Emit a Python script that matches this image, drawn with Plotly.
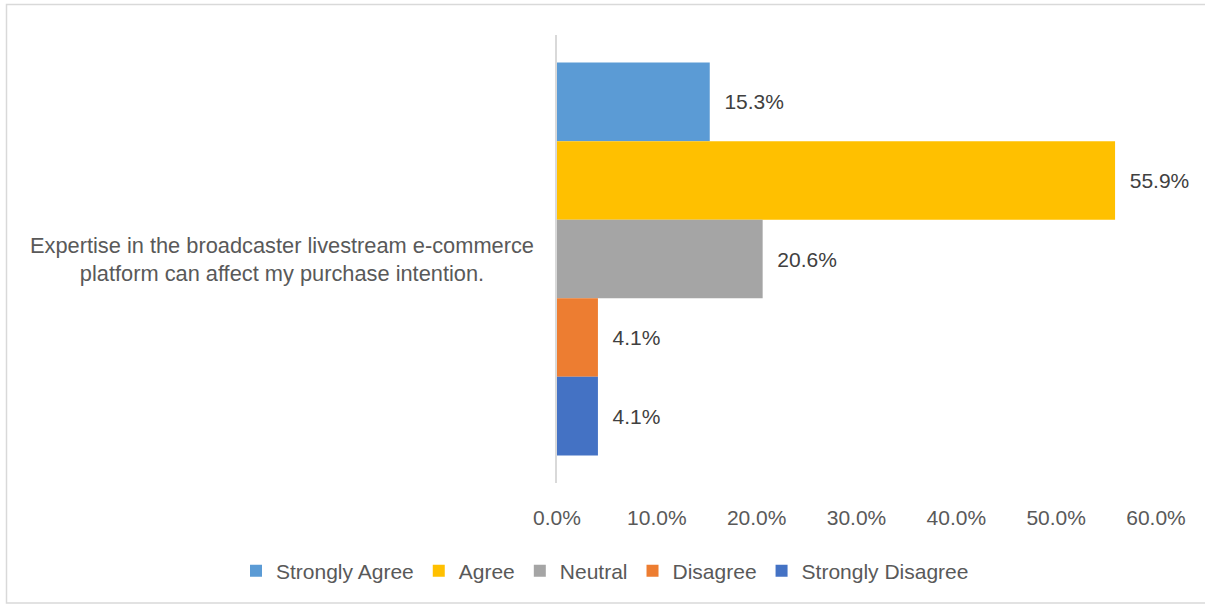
import plotly.graph_objects as go

# Survey item and response shares (%)
question = "Expertise in the broadcaster livestream e-commerce platform can affect my purchase intention."
responses = ["Strongly Agree", "Agree", "Neutral", "Disagree", "Strongly Disagree"]
shares = [15.3, 55.9, 20.6, 4.1, 4.1]
colors = ["#5B9BD5", "#FFC000", "#A5A5A5", "#ED7D31", "#4472C4"]
x_ticks = [0, 10, 20, 30, 40, 50, 60]

W, H = 1205, 604
L, R, T, B = 557, 49, 35, 121
pw, ph = W - L - R, H - T - B

font_family = "Liberation Sans, Arial, sans-serif"
text_col = "#595959"
fs = 21

fig = go.Figure()
for name, val, col in zip(responses, shares, colors):
    fig.add_trace(go.Bar(
        y=[question], x=[val], name=name, orientation="h",
        marker=dict(color=col, line=dict(width=0)),
        text=[val], texttemplate="\u00a0\u00a0%{x:.1f}%",
        textposition="outside", cliponaxis=False,
        textfont=dict(size=fs, color="#404040", family=font_family),
    ))

def px_to_paper_x(p):
    return (p - L) / pw

def px_to_paper_y(p):
    return (H - B - p) / ph

fig.update_layout(
    width=W, height=H,
    margin=dict(l=L, r=R, t=T, b=B, autoexpand=False),
    paper_bgcolor="white", plot_bgcolor="white",
    barmode="group", bargap=0.123, bargroupgap=0,
    font=dict(family=font_family, color=text_col, size=fs),
    xaxis=dict(
        range=[0, 60], tickvals=x_ticks,
        ticktext=[f"{v:.1f}%" for v in x_ticks],
        showgrid=False, zeroline=False, showline=False,
        ticks="", ticklabelstandoff=20,
        tickfont=dict(size=fs, color=text_col),
    ),
    yaxis=dict(
        autorange="reversed", showticklabels=False, showgrid=False,
        zeroline=False, showline=True, linecolor="#D9D9D9", linewidth=1.5,
        ticks="",
    ),
    legend=dict(
        orientation="h", xref="paper", yref="paper",
        x=px_to_paper_x(236), xanchor="left",
        y=px_to_paper_y(571), yanchor="middle",
        font=dict(size=fs, color=text_col), itemwidth=30,
        tracegroupgap=0,
    ),
    annotations=[dict(
        xref="paper", yref="paper",
        x=px_to_paper_x(536), y=0.5, xanchor="right", yanchor="middle",
        text="Expertise in the broadcaster livestream e-commerce<br>platform can affect my purchase intention.",
        align="center", showarrow=False,
        font=dict(size=21.8, color=text_col),
    )],
    shapes=[dict(
        type="rect", xref="paper", yref="paper",
        x0=px_to_paper_x(6.5), x1=px_to_paper_x(1210),
        y0=px_to_paper_y(603), y1=px_to_paper_y(4.5),
        line=dict(color="#D9D9D9", width=1.5), fillcolor="rgba(0,0,0,0)",
        layer="below",
    )],
)

fig.write_html("out.html")
